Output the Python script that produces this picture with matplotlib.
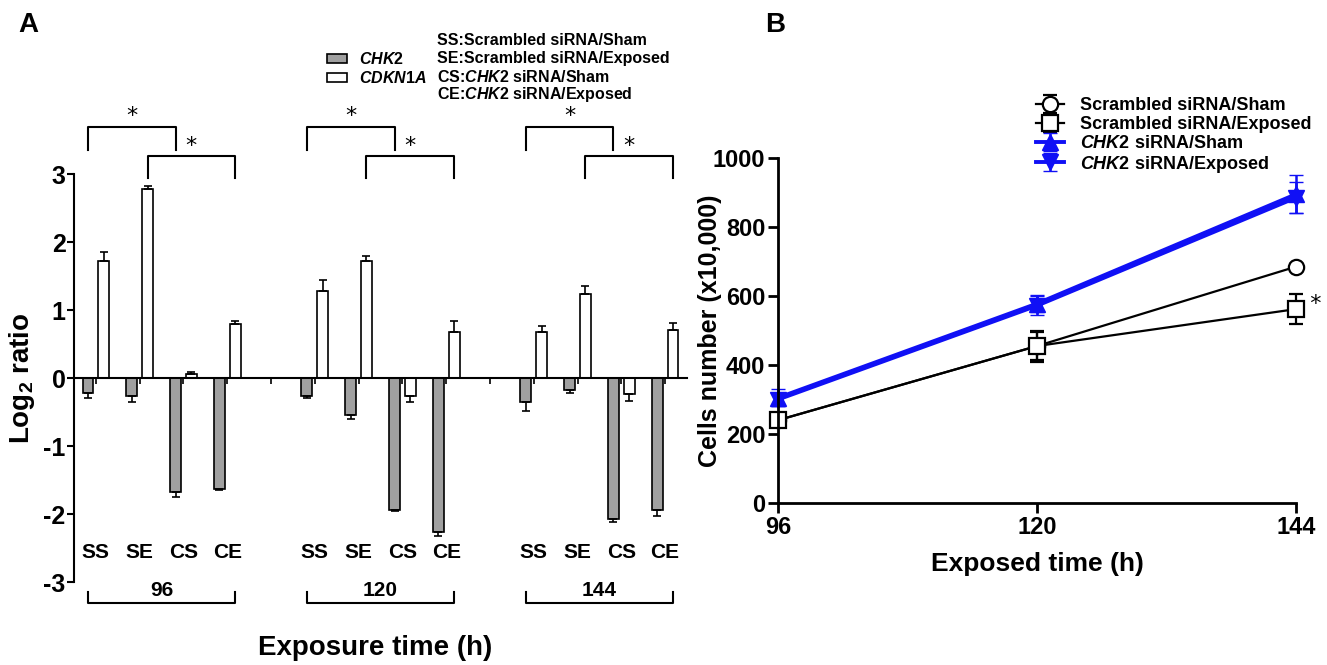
import numpy as np
import matplotlib
matplotlib.use("Agg")
import matplotlib.pyplot as plt

plt.rcParams['font.family'] = ['Liberation Sans', 'DejaVu Sans']
plt.rcParams['font.weight'] = 'bold'
plt.rcParams['axes.labelweight'] = 'bold'
plt.rcParams['axes.unicode_minus'] = False
plt.rcParams['mathtext.fontset'] = 'custom'
plt.rcParams['mathtext.rm'] = 'Liberation Sans:bold'
plt.rcParams['mathtext.it'] = 'Liberation Sans:bold:italic'
plt.rcParams['mathtext.default'] = 'rm'

# panel A data
conditions = ['SS', 'SE', 'CS', 'CE']
times = ['96', '120', '144']
chk2 = [-0.22, -0.27, -1.68, -1.63,
        -0.27, -0.54, -1.94, -2.27,
        -0.35, -0.18, -2.07, -1.94]
chk2_err = [0.08, 0.08, 0.07, 0.02,
            0.03, 0.06, 0.02, 0.05,
            0.14, 0.04, 0.05, 0.09]
cdkn1a = [1.72, 2.78, 0.06, 0.79,
          1.28, 1.72, -0.26, 0.67,
          0.68, 1.24, -0.24, 0.71]
cdkn1a_err = [0.14, 0.05, 0.03, 0.05,
              0.16, 0.07, 0.09, 0.17,
              0.08, 0.12, 0.10, 0.10]
key_lines = ['SS:Scrambled siRNA/Sham', 'SE:Scrambled siRNA/Exposed',
             r'CS:$\it{CHK2}$ siRNA/Sham', r'CE:$\it{CHK2}$ siRNA/Exposed']

# panel B data
hours = [96, 120, 144]
scr_sham = [240, 455, 685]
scr_sham_err = [12, 40, 8]
scr_exp = [240, 455, 562]
scr_exp_err = [15, 45, 43]
chk_sham = [305, 578, 895]
chk_sham_err = [25, 25, 55]
chk_exp = [300, 572, 885]
chk_exp_err = [20, 28, 45]

fig = plt.figure(figsize=(13.27, 6.65), dpi=100)

# ---------------- A ----------------
axA = fig.add_axes([74/1327, 1-582/665, 613/1327, 408/665])
pos = np.array([g*5 + c for g in range(3) for c in range(4)], dtype=float)
off, w = 0.18, 0.25

def one_side(vals, errs):
    lo = [e if v < 0 else 0 for v, e in zip(vals, errs)]
    hi = [e if v >= 0 else 0 for v, e in zip(vals, errs)]
    return [lo, hi]

b1 = axA.bar(pos-off, chk2, w, color='#a0a0a0', edgecolor='black', linewidth=1.2,
             label=r'$\it{CHK2}$', zorder=2)
b2 = axA.bar(pos+off, cdkn1a, w, color='white', edgecolor='black', linewidth=1.2,
             label=r'$\it{CDKN1A}$', zorder=2)
axA.errorbar(pos-off, chk2, yerr=one_side(chk2, chk2_err), fmt='none', ecolor='black',
             elinewidth=1.2, capsize=3, capthick=1.2, zorder=3)
axA.errorbar(pos+off, cdkn1a, yerr=one_side(cdkn1a, cdkn1a_err), fmt='none', ecolor='black',
             elinewidth=1.2, capsize=3, capthick=1.2, zorder=3)

axA.set_xlim(-0.5, 13.5)
axA.set_ylim(-3, 3)
axA.spines['top'].set_visible(False)
axA.spines['right'].set_visible(False)
axA.spines['bottom'].set_position(('data', 0))
axA.spines['bottom'].set_linewidth(1.5)
axA.spines['left'].set_linewidth(1.5)
axA.set_xticks(np.arange(14))
axA.set_xticklabels([])
axA.tick_params(axis='x', direction='out', length=4, width=1.2)
axA.set_yticks(np.arange(-3, 4))
axA.set_yticklabels([str(v) for v in range(-3, 4)])
axA.tick_params(axis='y', length=5, width=1.5, labelsize=18, pad=1)
axA.set_ylabel('Log$_2$ ratio', fontsize=20)
axA.yaxis.set_label_coords(-0.061, 0.5)

for g in range(3):
    base = g*5
    for c, name in enumerate(conditions):
        axA.text(base+c, -2.56, name, ha='center', va='center', fontsize=15, clip_on=False)
    axA.text(base+1.5, -3.12, times[g], ha='center', va='center', fontsize=15, clip_on=False)
    axA.plot([base-off, base-off, base+3+off, base+3+off], [-3.15, -3.31, -3.31, -3.15],
             color='black', lw=1.5, clip_on=False)
    # significance brackets
    x1, x2 = base-off, base+2-off
    axA.plot([x1, x1, x2, x2], [3.35, 3.69, 3.69, 3.35], color='black', lw=1.5, clip_on=False)
    axA.text((x1+x2)/2, 3.70, '*', ha='center', va='bottom', fontsize=16,
             fontweight='normal', family='DejaVu Sans', clip_on=False)
    x1, x2 = base+1+off, base+3+off
    axA.plot([x1, x1, x2, x2], [2.94, 3.26, 3.26, 2.94], color='black', lw=1.5, clip_on=False)
    axA.text((x1+x2)/2, 3.27, '*', ha='center', va='bottom', fontsize=16,
             fontweight='normal', family='DejaVu Sans', clip_on=False)

axA.text(0.492, -0.162, 'Exposure time (h)', transform=axA.transAxes, ha='center',
         va='center', fontsize=20)

axA.legend(handles=[b1, b2], loc='upper left', bbox_to_anchor=(0.4, 1.32),
           frameon=False, fontsize=11.5, handlelength=1.25, handleheight=0.5,
           handletextpad=0.75, labelspacing=0.16, borderpad=0)
for i, line in enumerate(key_lines):
    axA.text(0.592, 1.327 - i*0.0441, line, transform=axA.transAxes, ha='left',
             va='center', fontsize=11.5)

fig.text(28/1327, 1-25/665, 'A', fontsize=20, ha='center', va='center')

# ---------------- B ----------------
axB = fig.add_axes([778/1327, 1-503/665, 518/1327, 345/665])
black_kw = dict(color='black', lw=1.6, ms=11, mfc='white', mew=1.6, capsize=5,
                elinewidth=1.6, capthick=1.6, clip_on=False)
blue_kw = dict(color='#1010f5', lw=2.8, ms=11, mew=1.0, capsize=5,
               elinewidth=1.8, capthick=1.8, clip_on=False)
e1 = axB.errorbar(hours, scr_sham, yerr=scr_sham_err, marker='o', label='Scrambled siRNA/Sham', **black_kw)
e2 = axB.errorbar(hours, scr_exp, yerr=scr_exp_err, marker='s', label='Scrambled siRNA/Exposed', **black_kw)
e3 = axB.errorbar(hours, chk_sham, yerr=chk_sham_err, marker='^', label=r'$\it{CHK2}$ siRNA/Sham', **blue_kw)
e4 = axB.errorbar(hours, chk_exp, yerr=chk_exp_err, marker='v', label=r'$\it{CHK2}$ siRNA/Exposed', **blue_kw)
for cont in (e1, e2, e3, e4):
    for art in cont.lines[1] + cont.lines[2]:
        art.set_clip_on(False)

axB.text(144, scr_exp[2] + 15, '  *', ha='left', va='center', fontsize=16,
         fontweight='normal', family='DejaVu Sans')

axB.set_xlim(96, 144)
axB.set_ylim(0, 1000)
axB.spines['top'].set_visible(False)
axB.spines['right'].set_visible(False)
axB.spines['left'].set_linewidth(2)
axB.spines['bottom'].set_linewidth(2)
axB.set_xticks(hours)
axB.set_yticks(np.arange(0, 1001, 200))
axB.tick_params(axis='both', length=7, width=2, labelsize=17, pad=2)
axB.set_xlabel('Exposed time (h)', fontsize=19, labelpad=10)
axB.set_ylabel('Cells number (x10,000)', fontsize=18)
axB.yaxis.set_label_coords(-0.108, 0.5)
axB.legend(handles=[e1, e2, e3, e4], loc='upper left', bbox_to_anchor=(0.481, 1.202),
           frameon=False, fontsize=13, handlelength=1.55, handletextpad=0.85,
           labelspacing=0.1, borderpad=0)

fig.text(775/1327, 1-25/665, 'B', fontsize=20, ha='center', va='center')

fig.savefig('out.png', dpi=100)
